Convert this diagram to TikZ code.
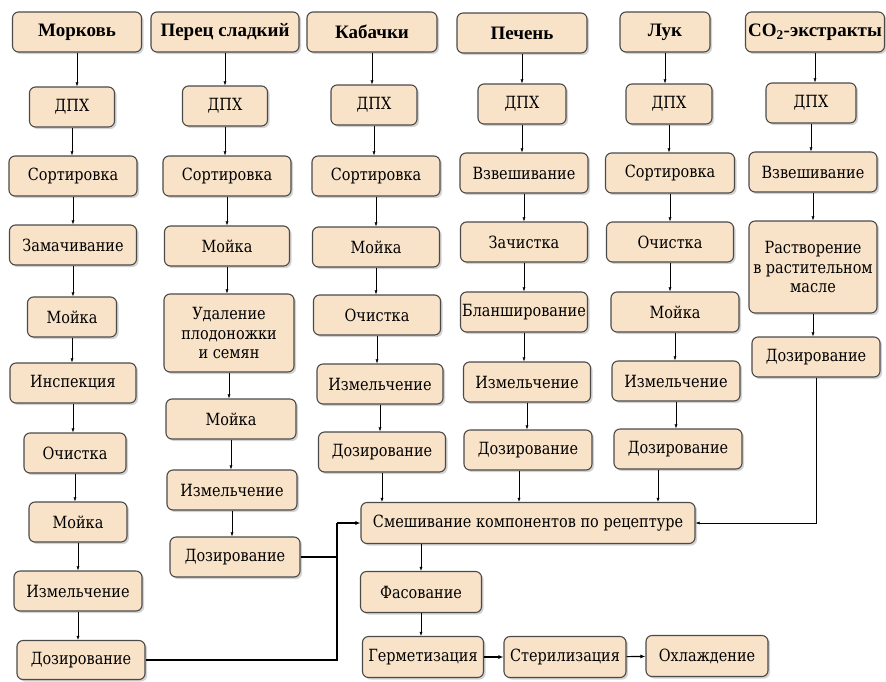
\documentclass[tikz,border=0pt]{standalone}
\usepackage{fontspec}
\setmainfont{DejaVu Serif}[FakeStretch=0.86]
\newfontfamily\headfont{Liberation Serif}
\usetikzlibrary{arrows.meta,shadows}
\definecolor{boxfill}{HTML}{F9E3C8}
\definecolor{boxline}{HTML}{4A4A4A}
\tikzset{
  stage/.style={draw=boxline, line width=1.1pt, fill=boxfill, rounded corners=6pt,
    drop shadow={shadow xshift=2pt, shadow yshift=-2pt, opacity=0.35},
    minimum height=40pt, inner sep=1pt, align=center,
    font=\rmfamily\fontsize{16.8}{19.5}\selectfont},
  head/.style={stage, font=\headfont\fontsize{19}{20}\selectfont\bfseries},
  arr/.style={-{Latex[length=4pt,width=3pt]}, line width=0.5pt},
  bigarr/.style={-{Latex[length=5pt,width=4pt]}, line width=1.1pt},
}
\begin{document}
\begin{tikzpicture}[x=1pt,y=-1pt]
\useasboundingbox (0,0) rectangle (886,681);
% Морковь
\node[head, minimum width=129] (mor0) at (77,32) {Морковь};
\node[stage, minimum width=85] (mor1) at (72,107) {ДПХ};
\node[stage, minimum width=128] (mor2) at (73,176) {Сортировка};
\node[stage, minimum width=127] (mor3) at (73,245) {Замачивание};
\node[stage, minimum width=89] (mor4) at (72,317) {Мойка};
\node[stage, minimum width=126] (mor5) at (73,383) {Инспекция};
\node[stage, minimum width=102] (mor6) at (75,453) {Очистка};
\node[stage, minimum width=98] (mor7) at (78,522) {Мойка};
\node[stage, minimum width=128] (mor8) at (78,591) {Измельчение};
\node[stage, minimum width=128, minimum height=39] (mor9) at (81,660) {Дозирование};
% Перец сладкий
\node[head, minimum width=148] (per0) at (225,32) {Перец сладкий};
\node[stage, minimum width=85] (per1) at (225,106) {ДПХ};
\node[stage, minimum width=128] (per2) at (227,176) {Сортировка};
\node[stage, minimum width=125] (per3) at (227,246) {Мойка};
\node[stage, minimum width=130, minimum height=78] (per4) at (229,333) {Удаление\\плодоножки\\и семян};
\node[stage, minimum width=130] (per5) at (231,419) {Мойка};
\node[stage, minimum width=130] (per6) at (232,490) {Измельчение};
\node[stage, minimum width=130] (per7) at (235,557) {Дозирование};
% Кабачки
\node[head, minimum width=130] (kab0) at (372,32) {Кабачки};
\node[stage, minimum width=86] (kab1) at (374,105) {ДПХ};
\node[stage, minimum width=128] (kab2) at (376,176) {Сортировка};
\node[stage, minimum width=127] (kab3) at (376,247) {Мойка};
\node[stage, minimum width=127] (kab4) at (377,315) {Очистка};
\node[stage, minimum width=126] (kab5) at (380,384) {Измельчение};
\node[stage, minimum width=127] (kab6) at (382,452) {Дозирование};
% Печень
\node[head, minimum width=130] (pech0) at (522,33) {Печень};
\node[stage, minimum width=88] (pech1) at (522,104) {ДПХ};
\node[stage, minimum width=128] (pech2) at (524,173) {Взвешивание};
\node[stage, minimum width=127] (pech3) at (524,242) {Зачистка};
\node[stage, minimum width=127] (pech4) at (524,312) {Бланширование};
\node[stage, minimum width=127] (pech5) at (527,382) {Измельчение};
\node[stage, minimum width=128] (pech6) at (528,450) {Дозирование};
% Лук
\node[head, minimum width=90] (luk0) at (665,32) {Лук};
\node[stage, minimum width=86] (luk1) at (669,104) {ДПХ};
\node[stage, minimum width=129] (luk2) at (670,173) {Сортировка};
\node[stage, minimum width=127] (luk3) at (670,242) {Очистка};
\node[stage, minimum width=128] (luk4) at (675,312) {Мойка};
\node[stage, minimum width=128] (luk5) at (676,381) {Измельчение};
\node[stage, minimum width=128] (luk6) at (678,449) {Дозирование};
% CO2-экстракты
\node[head, minimum width=139] (co0) at (815,32) {CO\textsubscript{2}-экстракты};
\node[stage, minimum width=90] (co1) at (811,103) {ДПХ};
\node[stage, minimum width=128] (co2) at (813,172) {Взвешивание};
\node[stage, minimum width=128, minimum height=92] (co3) at (813,267) {Растворение\\в растительном\\масле};
\node[stage, minimum width=128] (co4) at (816,357) {Дозирование};
% общая линия
\node[stage, minimum width=334, minimum height=41] (mix) at (528,523) {Смешивание компонентов по рецептуре};
\node[stage, minimum width=121, minimum height=41] (fas) at (421,592) {Фасование};
\node[stage, minimum width=121, minimum height=41] (germ) at (423,657) {Герметизация};
\node[stage, minimum width=122, minimum height=41] (ster) at (565,657) {Стерилизация};
\node[stage, minimum width=122, minimum height=41] (ohl) at (707,656) {Охлаждение};
\coordinate (join) at (337,523);
% стрелки
\foreach \a/\b in {mor0/mor1,mor1/mor2,mor2/mor3,mor3/mor4,mor4/mor5,mor5/mor6,mor6/mor7,mor7/mor8,mor8/mor9,
  per0/per1,per1/per2,per2/per3,per3/per4,per4/per5,per5/per6,per6/per7,
  kab0/kab1,kab1/kab2,kab2/kab3,kab3/kab4,kab4/kab5,kab5/kab6,
  pech0/pech1,pech1/pech2,pech2/pech3,pech3/pech4,pech4/pech5,pech5/pech6,
  luk0/luk1,luk1/luk2,luk2/luk3,luk3/luk4,luk4/luk5,luk5/luk6,
  co0/co1,co1/co2,co2/co3,co3/co4}
  \draw[arr] (\a) -- (\a |- \b.north);
\draw[arr] (kab6) -- (kab6 |- mix.north);
\draw[arr] (pech6.south -| 519,0) -- (519,0 |- mix.north);
\draw[arr] (luk6.south -| 658,0) -- (658,0 |- mix.north);
\draw[arr] (co4) |- (mix.east);
\draw[arr] (mix.south -| fas) -- (fas);
\draw[arr] (fas) -- (fas |- germ.north);
\draw[line width=1.1pt] (mor9) -| (join);
\draw[line width=1.1pt] (per7) -| (join);
\draw[bigarr] (join) -- (mix);
\draw[bigarr] (germ) -- (ster);
\draw[bigarr] (ster) -- (ohl);
\end{tikzpicture}
\end{document}
